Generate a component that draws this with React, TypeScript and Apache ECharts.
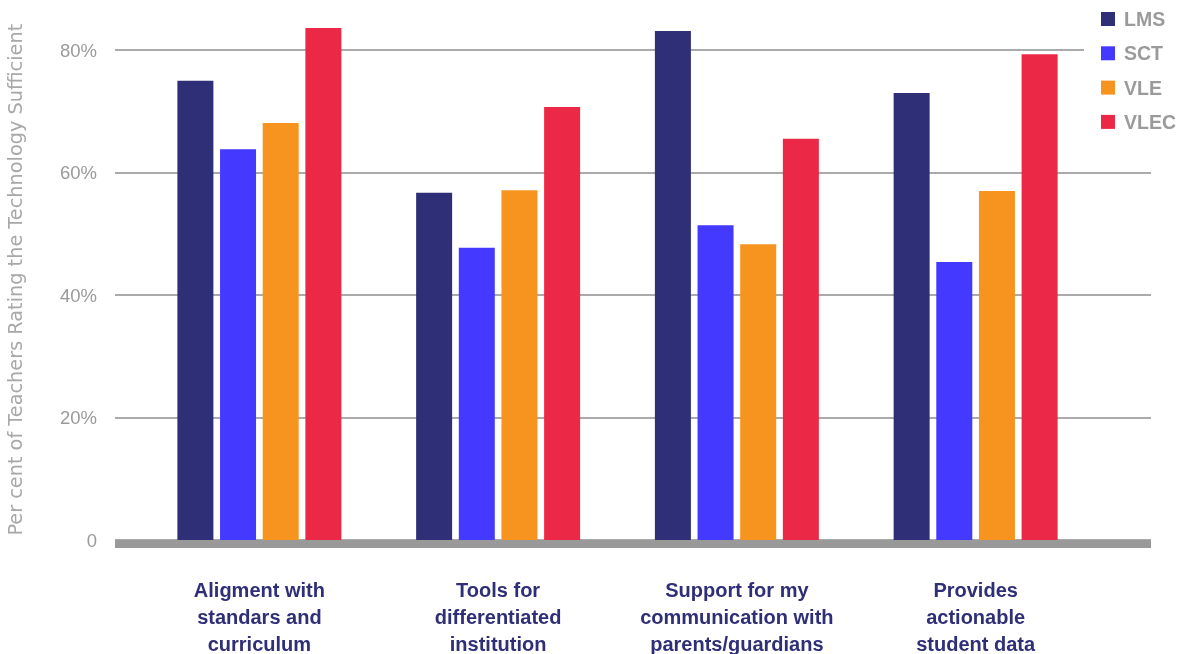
import React, { useEffect, useRef } from "react";
import * as echarts from "echarts";

const categories = [
  "Aligment with\nstandars and\ncurriculum",
  "Tools for\ndifferentiated\ninstitution",
  "Support for my\ncommunication with\nparents/guardians",
  "Provides\nactionable\nstudent data",
];
const seriesNames = ["LMS", "SCT", "VLE", "VLEC"];
const lmsValues = [75, 56.7, 83.1, 73];
const sctValues = [63.8, 47.7, 51.4, 45.4];
const vleValues = [68.1, 57.1, 48.3, 57];
const vlecValues = [83.6, 70.7, 65.5, 79.3];
const colors = ["#2f2f78", "#4339ff", "#f7941f", "#ec2847"];
const yTicks = [0, 20, 40, 60, 80];
const yMax = 85;

const FONT = "'Liberation Sans', Arial, sans-serif";

export default function App() {
  const ref = useRef<HTMLDivElement>(null);
  useEffect(() => {
    if (!ref.current) return;
    const chart = echarts.init(ref.current, null, { renderer: "svg" });
    const values = [lmsValues, sctValues, vleValues, vlecValues];
    const top = 19.4;
    const bottom = 114;
    chart.setOption({
      animation: false,
      textStyle: { fontFamily: FONT },
      legend: {
        orient: "vertical",
        left: 1084,
        top: 0,
        padding: [9, 10, 6, 17],
        backgroundColor: "#ffffff",
        itemWidth: 14,
        itemHeight: 14,
        itemGap: 14.3,
        icon: "rect",
        data: seriesNames,
        textStyle: {
          fontFamily: FONT,
          fontSize: 19.5,
          fontWeight: "bold",
          color: "#9a9a9a",
          lineHeight: 20,
          padding: [0, 0, 0, 4],
        },
      },
      grid: [
        { left: 140, right: 85, top, bottom, containLabel: false, outerBoundsMode: "none" },
        { left: 115, right: 29, top, bottom, containLabel: false, outerBoundsMode: "none" },
        { left: 115, right: 29, top, bottom: 110, containLabel: false, outerBoundsMode: "none" },
      ],
      xAxis: [
        {
          type: "category",
          gridIndex: 0,
          data: categories,
          axisLine: { show: false },
          axisTick: { show: false },
          axisLabel: {
            interval: 0,
            margin: 36,
            fontFamily: FONT,
            fontSize: 20,
            fontWeight: "bold",
            color: "#2f2f78",
            lineHeight: 27,
            align: "center",
          },
        },
        {
          type: "category",
          gridIndex: 1,
          data: categories,
          show: false,
        },
        {
          type: "category",
          gridIndex: 2,
          data: categories,
          axisLine: {
            show: true,
            lineStyle: { color: "#999999", width: 8, cap: "butt" },
          },
          axisTick: { show: false },
          axisLabel: { show: false },
        },
      ],
      yAxis: [
        { type: "value", gridIndex: 0, min: 0, max: yMax, show: false },
        {
          type: "value",
          gridIndex: 1,
          min: 0,
          max: yMax,
          interval: 20,
          axisLine: { show: false },
          axisTick: { show: false },
          axisLabel: {
            margin: 18,
            fontFamily: FONT,
            fontSize: 18.5,
            color: "#9a9a9a",
            showMaxLabel: false,
            formatter: (v: number) =>
              yTicks.includes(v) ? (v === 0 ? "0" : v + "%") : "",
          },
          splitLine: {
            show: true,
            showMaxLine: false,
            lineStyle: { color: "#aaaaaa", width: 2 },
          },
          name: "Per cent of Teachers Rating the Technology Sufficient",
          nameLocation: "middle",
          nameGap: 90,
          nameTextStyle: {
            fontFamily: "'DejaVu Sans', sans-serif",
            fontSize: 19.3,
            color: "#a8a8a8",
          },
        },
        { type: "value", gridIndex: 2, min: 0, max: yMax, show: false },
      ],
      series: seriesNames.map((name, i) => ({
        name,
        type: "bar",
        xAxisIndex: 0,
        yAxisIndex: 0,
        data: values[i],
        barWidth: 36,
        barGap: "18.5%",
        itemStyle: { color: colors[i] },
        z: 3,
      })),
    });
    return () => chart.dispose();
  }, []);
  return (
    <div
      ref={ref}
      style={{ position: "fixed", left: 0, top: 0, width: 1180, height: 654 }}
    />
  );
}
